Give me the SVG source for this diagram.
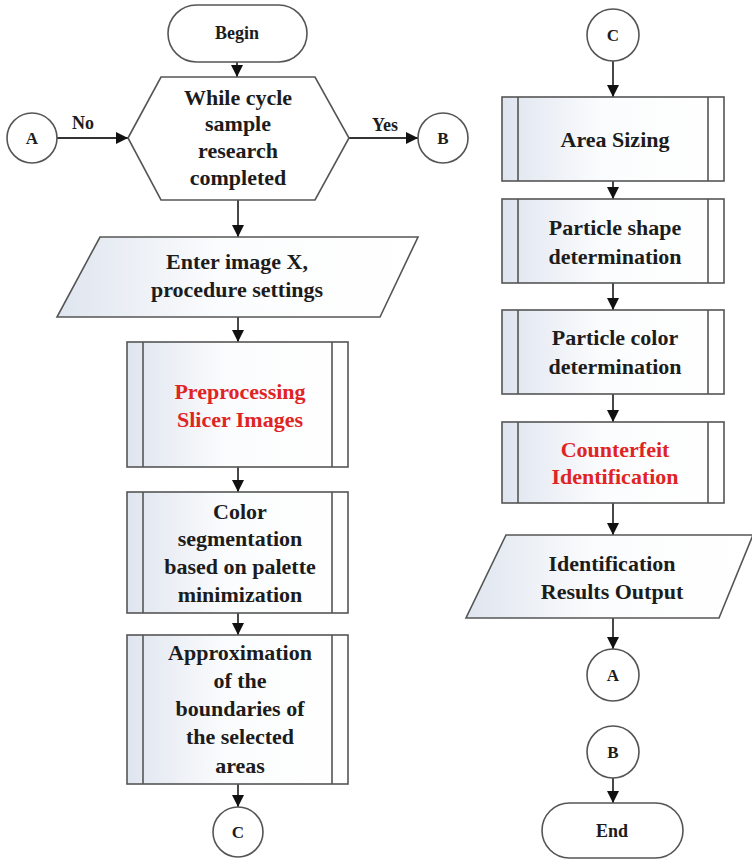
<svg xmlns="http://www.w3.org/2000/svg" width="752" height="860" viewBox="0 0 752 860">
<defs>
<linearGradient id="g" x1="0" y1="0" x2="1" y2="0">
<stop offset="0" stop-color="#dfe5ef"/>
<stop offset="0.45" stop-color="#fbfcfd"/>
<stop offset="1" stop-color="#ffffff"/>
</linearGradient>
<marker id="ah" markerWidth="12" markerHeight="12" viewBox="0 0 12 12" refX="12" refY="6" orient="auto" markerUnits="userSpaceOnUse">
<path d="M0,0 L12,6 L0,12 Z" fill="#111"/>
</marker>
</defs>
<style>
.s{fill:url(#g);stroke:#555;stroke-width:1.6}
.w{fill:#fff;stroke:#555;stroke-width:1.6}
.l{stroke:#555;stroke-width:1.6}
.c{stroke:#333;stroke-width:1.8;fill:none;marker-end:url(#ah)}
text{font-family:"Liberation Serif","Times New Roman",serif;font-weight:bold;fill:#1c1c1c;text-anchor:middle}
.t{font-size:22px}
.m{font-size:18px}
.k{font-size:17px}
.r{fill:#e02424}
</style>
<rect width="752" height="860" fill="#fff"/>
<g id="connectors">
<line class="c" x1="237" y1="62" x2="237" y2="77"/>
<line class="c" x1="57" y1="138" x2="128" y2="138"/>
<line class="c" x1="349" y1="138" x2="418" y2="138"/>
<line class="c" x1="238" y1="200" x2="238" y2="237"/>
<line class="c" x1="238" y1="317" x2="238" y2="342"/>
<line class="c" x1="238" y1="467" x2="238" y2="492"/>
<line class="c" x1="238" y1="613" x2="238" y2="635"/>
<line class="c" x1="238" y1="784" x2="238" y2="807"/>
<line class="c" x1="613" y1="61" x2="613" y2="97"/>
<line class="c" x1="613" y1="181" x2="613" y2="199"/>
<line class="c" x1="613" y1="283" x2="613" y2="310"/>
<line class="c" x1="613" y1="394" x2="613" y2="422"/>
<line class="c" x1="613" y1="503" x2="613" y2="535"/>
<line class="c" x1="613" y1="618" x2="613" y2="649"/>
<line class="c" x1="613" y1="778" x2="613" y2="803"/>
<text class="m" x="83" y="129">No</text>
<text class="m" x="385" y="131">Yes</text>
</g>
<g id="begin">
<rect class="w" x="168" y="5" width="139" height="57" rx="28.5"/>
<text class="m" x="237" y="39">Begin</text>
</g>
<g id="conA1">
<circle class="w" cx="32" cy="138" r="25"/>
<text class="k" x="32" y="144">A</text>
</g>
<g id="conB1">
<circle class="w" cx="443" cy="138" r="25"/>
<text class="k" x="443" y="144">B</text>
</g>
<g id="loop">
<polygon class="w" points="128,138 161,77 315,77 349,138 315,200 161,200"/>
<text class="t" x="238" y="105">While cycle</text>
<text class="t" x="238" y="131">sample</text>
<text class="t" x="238" y="158">research</text>
<text class="t" x="238" y="185">completed</text>
</g>
<g id="input">
<polygon class="s" points="100,237 418,237 380,317 57,317"/>
<text class="t" x="237" y="269">Enter image X,</text>
<text class="t" x="237" y="297">procedure settings</text>
</g>
<g id="preproc">
<rect class="s" x="127" y="342" width="221" height="125"/>
<line class="l" x1="143" y1="342" x2="143" y2="467"/>
<line class="l" x1="332" y1="342" x2="332" y2="467"/>
<text class="t r" x="240" y="399">Preprocessing</text>
<text class="t r" x="240" y="427">Slicer Images</text>
</g>
<g id="colorseg">
<rect class="s" x="127" y="492" width="221" height="121"/>
<line class="l" x1="143" y1="492" x2="143" y2="613"/>
<line class="l" x1="332" y1="492" x2="332" y2="613"/>
<text class="t" x="240" y="519">Color</text>
<text class="t" x="240" y="546">segmentation</text>
<text class="t" x="240" y="574">based on palette</text>
<text class="t" x="240" y="602">minimization</text>
</g>
<g id="approx">
<rect class="s" x="127" y="635" width="221" height="149"/>
<line class="l" x1="143" y1="635" x2="143" y2="784"/>
<line class="l" x1="332" y1="635" x2="332" y2="784"/>
<text class="t" x="240" y="660">Approximation</text>
<text class="t" x="240" y="688">of the</text>
<text class="t" x="240" y="716">boundaries of</text>
<text class="t" x="240" y="744">the selected</text>
<text class="t" x="240" y="773">areas</text>
</g>
<g id="conC1">
<circle class="w" cx="238" cy="832" r="25"/>
<text class="k" x="238" y="838">C</text>
</g>
<g id="conC2">
<circle class="w" cx="613" cy="35" r="26"/>
<text class="k" x="613" y="41">C</text>
</g>
<g id="area">
<rect class="s" x="502" y="97" width="222" height="84"/>
<line class="l" x1="518" y1="97" x2="518" y2="181"/>
<line class="l" x1="708" y1="97" x2="708" y2="181"/>
<text class="t" x="615" y="147">Area Sizing</text>
</g>
<g id="shape">
<rect class="s" x="502" y="199" width="222" height="84"/>
<line class="l" x1="518" y1="199" x2="518" y2="283"/>
<line class="l" x1="708" y1="199" x2="708" y2="283"/>
<text class="t" x="615" y="235">Particle shape</text>
<text class="t" x="615" y="264">determination</text>
</g>
<g id="pcolor">
<rect class="s" x="502" y="310" width="222" height="84"/>
<line class="l" x1="518" y1="310" x2="518" y2="394"/>
<line class="l" x1="708" y1="310" x2="708" y2="394"/>
<text class="t" x="615" y="345">Particle color</text>
<text class="t" x="615" y="374">determination</text>
</g>
<g id="counterfeit">
<rect class="s" x="502" y="422" width="222" height="81"/>
<line class="l" x1="518" y1="422" x2="518" y2="503"/>
<line class="l" x1="708" y1="422" x2="708" y2="503"/>
<text class="t r" x="615" y="457">Counterfeit</text>
<text class="t r" x="615" y="484">Identification</text>
</g>
<g id="output">
<polygon class="s" points="506,535 753,535 719,618 466,618"/>
<text class="t" x="612" y="571">Identification</text>
<text class="t" x="612" y="599">Results Output</text>
</g>
<g id="conA2">
<circle class="w" cx="613" cy="675" r="26"/>
<text class="k" x="613" y="681">A</text>
</g>
<g id="conB2">
<circle class="w" cx="613" cy="752" r="26"/>
<text class="k" x="613" y="758">B</text>
</g>
<g id="end">
<rect class="w" x="542" y="803" width="141" height="55" rx="27.5"/>
<text class="m" x="612" y="837">End</text>
</g>
</svg>
